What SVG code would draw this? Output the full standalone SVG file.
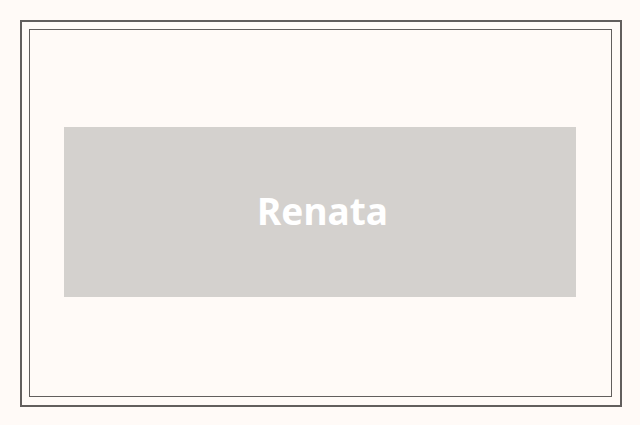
<svg xmlns="http://www.w3.org/2000/svg" width="640" height="425" viewBox="0 0 640 425">
<style>
.frame{fill:none;stroke:#625e5d}
.node{fill:#d4d1ce}
.label{font-family:"Noto Sans","Open Sans",sans-serif;font-weight:bold;font-size:37px;fill:#ffffff;text-anchor:middle}
</style>
<rect width="640" height="425" fill="#fffaf7"/>
<rect class="frame" x="21" y="21" width="600" height="385" stroke-width="2"/>
<rect class="frame" x="29.5" y="29.5" width="582" height="367" stroke-width="1"/>
<g id="connectors"/>
<g id="renata">
<rect class="node" x="64" y="127" width="512" height="170"/>
<text class="label" x="322.5" y="225">Renata</text>
</g>
</svg>
